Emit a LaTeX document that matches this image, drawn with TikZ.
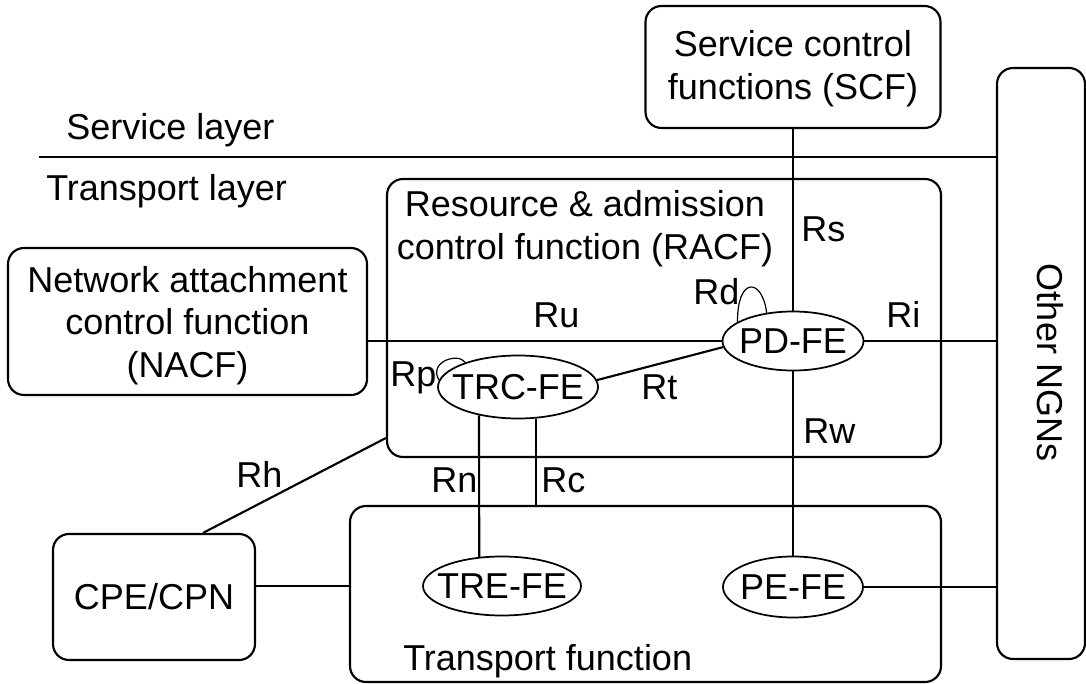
\documentclass[tikz,border=0pt]{standalone}
\usepackage{fontspec}
\setmainfont{Liberation Sans}
\usetikzlibrary{shapes.geometric}
\begin{document}
\begin{tikzpicture}[x=0.75pt, y=-0.75pt,
  every node/.style={font=\fontsize{27pt}{32pt}\selectfont},
  fbox/.style={draw, line width=1.6pt, rounded corners=12pt, inner sep=0pt, align=center},
  fe/.style={draw, ellipse, line width=1.3pt, inner sep=0pt},
  link/.style={line width=1.6pt},
  loopline/.style={line width=0.9pt},
  lbl/.style={anchor=base west, inner sep=0pt}]
\useasboundingbox (0,0) rectangle (1086,684);

% functional blocks
\node[fbox, minimum width=221.25pt, minimum height=91.5pt,
      label={[align=center, yshift=-1.5pt]center:Service control\\functions (SCF)}] (SCF) at (793,67) {};
\node[fbox, minimum width=66pt, minimum height=443.25pt] (NGN) at (1041,363.5) {};
\node[rotate=-90, inner sep=0pt] (ngnlabel) at (1050,363) {Other NGNs};
\node[fbox, minimum width=415.5pt, minimum height=208.5pt] (RACF) at (664,318) {};
\node[align=center, inner sep=0pt] (racflabel) at (585,229) {Resource \& admission\\control function (RACF)};
\node[fbox, minimum width=269.25pt, minimum height=110.25pt,
      label={[align=center, yshift=-3pt]center:Network attachment\\control function\\(NACF)}] (NACF) at (187.5,321.5) {};
\node[fbox, minimum width=443.25pt, minimum height=132pt] (TF) at (645.5,594) {};
\node[lbl] (tflabel) at (403,670) {Transport function};
\node[fbox, minimum width=151.5pt, minimum height=94.5pt] (CPE) at (154,597) {CPE/CPN};

% functional entities
\node[fe, minimum width=105.75pt, minimum height=44.25pt, label=center:PD-FE] (PD) at (793,341) {};
\node[fe, minimum width=120pt, minimum height=47.25pt, label=center:TRC-FE] (TRC) at (518,387) {};
\node[fe, minimum width=118.5pt, minimum height=44.25pt, label=center:TRE-FE] (TRE) at (502,586) {};
\node[fe, minimum width=105pt, minimum height=45.75pt, label=center:PE-FE] (PE) at (793,587) {};

% layer separation
\coordinate (layerL) at (39,157);
\draw[link] (layerL) -- (layerL -| NGN.west);
\node[lbl] (svc) at (66,140) {Service layer};
\node[lbl] (trl) at (46,201) {Transport layer};

% reference points
\draw[link] (SCF.south) -- (PD.north);
\draw[link] (NACF.east |- PD.west) -- (PD.west);
\draw[link] (PD.east) -- (PD.east -| NGN.west);
\draw[link] (TRC.5) -- (PD.185);
\draw[link] (TRC.216) -- (TRE.128);
\draw[link] (TRC.300) -- (TRC.300 |- TF.north);
\draw[link] (PD.south) -- (PE.north);
\draw[link] (PE.east) -- (PE.east -| NGN.west);
\draw[link] (CPE.east |- 0,586) -- (TF.west |- 0,586);
\draw[link] (CPE.north -| 203,0) -- (RACF.west |- 0,438);
\draw[loopline] (PD.161) .. controls (737,277) and (762,277) .. (PD.133);
\draw[loopline] (TRC.175) .. controls (428,362) and (458,352) .. (TRC.155);

\node[lbl] (Rs) at (801,242) {Rs};
\node[lbl] (Rd) at (693,305) {Rd};
\node[lbl] (Ru) at (533,328) {Ru};
\node[lbl] (Ri) at (886,328) {Ri};
\node[lbl] (Rp) at (390,387) {Rp};
\node[lbl] (Rt) at (641,400) {Rt};
\node[lbl] (Rw) at (803,444) {Rw};
\node[lbl] (Rn) at (431,492) {Rn};
\node[lbl] (Rc) at (541,492) {Rc};
\node[lbl] (Rh) at (236,487) {Rh};
\end{tikzpicture}
\end{document}
